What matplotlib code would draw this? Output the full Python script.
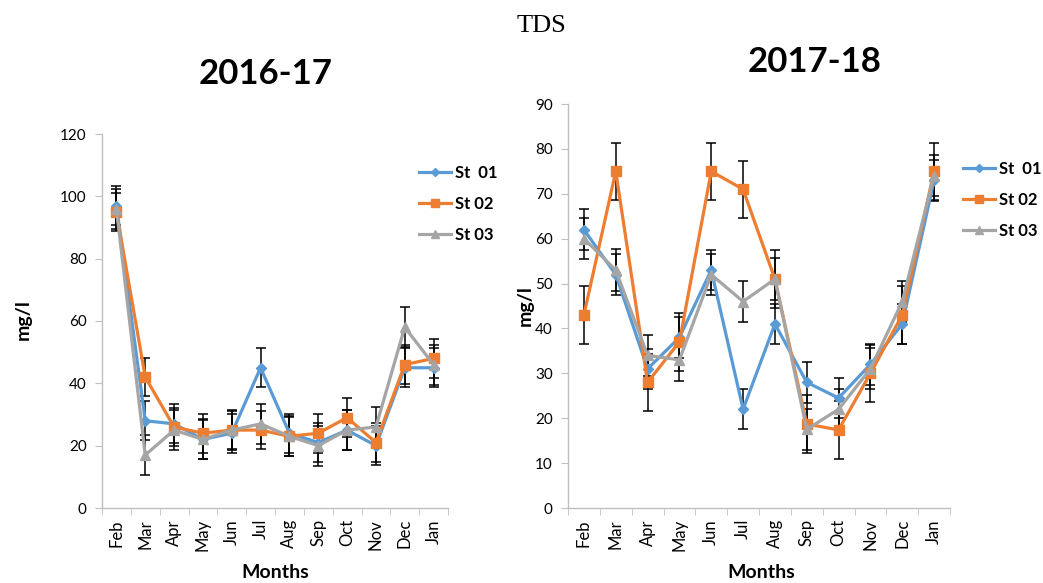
import matplotlib
matplotlib.use("Agg")
import matplotlib.pyplot as plt
from matplotlib.lines import Line2D
import numpy as np

months = ["Feb", "Mar", "Apr", "May", "Jun", "Jul", "Aug", "Sep", "Oct", "Nov", "Dec", "Jan"]
stations = ["St  01", "St 02", "St 03"]

# 2016-17 TDS (mg/l)
st01_1617 = [97, 28, 27, 22, 24, 45, 24, 21, 25, 20, 45, 45]
st02_1617 = [95, 42, 26, 24, 25, 25, 23, 24, 29, 21, 46, 48]
st03_1617 = [96, 17, 25, 22, 25, 27, 23, 20, 25, 26, 58, 46]
err_1617 = [6.3, 6.2, 6.4]

# 2017-18 TDS (mg/l)
st01_1718 = [62, 52, 31, 38, 53, 22, 41, 28, 24.5, 32, 41, 73]
st02_1718 = [43, 75, 28, 37, 75, 71, 51, 18.7, 17.4, 30, 43, 75]
st03_1718 = [60, 53, 34, 33, 52, 46, 51, 17.5, 22, 31, 46, 74]
err_1718 = [4.5, 6.4, 4.6]

colors = ["#5B9BD5", "#ED7D31", "#A5A5A5"]
markers = ["D", "s", "^"]
msizes = [5, 7, 7]

plt.rcParams["font.family"] = ["Lato", "DejaVu Sans"]

fig = plt.figure(figsize=(10.43, 5.83), dpi=100)
W, H = 1043, 583


def axes_px(x0, y0, x1, y1):
    return fig.add_axes([x0 / W, 1 - y1 / H, (x1 - x0) / W, (y1 - y0) / H])


def draw_panel(ax, box, series, errs, ymax, ystep, title, title_xy, legend_xy,
               ylabel_xy, xlabel_xy):
    x0, y0, x1, y1 = box
    x = np.arange(len(months))
    for vals, err, c, m, ms in zip(series, errs, colors, markers, msizes):
        ax.errorbar(x, vals, yerr=err, color=c, marker=m, markersize=ms,
                    linewidth=2.3, ecolor="black", elinewidth=1.1, capsize=3.5,
                    capthick=1.1)
    ax.set_xlim(-0.5, len(months) - 0.5)
    ax.set_ylim(0, ymax)
    ax.set_yticks(np.arange(0, ymax + 1, ystep))
    ax.set_xticks(x)
    ax.set_xticklabels(months, rotation=90, fontsize=12)
    ax.set_xticks(np.arange(-0.5, len(months)), minor=True)
    ax.tick_params(axis="x", which="major", length=0, pad=8)
    ax.tick_params(axis="x", which="minor", length=5, color="#BFBFBF", direction="out")
    ax.tick_params(axis="y", length=5, color="#BFBFBF", labelsize=11, pad=6)
    for s in ["top", "right"]:
        ax.spines[s].set_visible(False)
    for s in ["left", "bottom"]:
        ax.spines[s].set_color("#BFBFBF")
        ax.spines[s].set_linewidth(1.0)

    ax.set_xlabel("Months", fontsize=14, fontweight="bold", va="center")
    ax.xaxis.set_label_coords((xlabel_xy[0] - x0) / (x1 - x0),
                              (y1 - xlabel_xy[1]) / (y1 - y0))
    ax.set_ylabel("mg/l", fontsize=14, fontweight="bold", va="center")
    ax.yaxis.set_label_coords((ylabel_xy[0] - x0) / (x1 - x0),
                              (y1 - ylabel_xy[1]) / (y1 - y0))

    fig.text(title_xy[0] / W, 1 - title_xy[1] / H, title, fontsize=25,
             fontweight="bold", ha="center", va="center")

    handles = [Line2D([], [], color=c, marker=m, markersize=ms - 1, linewidth=2.3)
               for c, m, ms in zip(colors, markers, msizes)]
    ax.legend(handles, stations, loc="upper left",
              bbox_to_anchor=(legend_xy[0] / W, 1 - legend_xy[1] / H),
              bbox_transform=fig.transFigure, frameon=False,
              prop={"weight": "bold", "size": 12}, handlelength=1.9,
              labelspacing=0.9, handletextpad=0.25)


ax1_box = (102, 134, 448, 508)
ax1 = axes_px(*ax1_box)
draw_panel(ax1, ax1_box, [st01_1617, st02_1617, st03_1617], err_1617, 120, 20,
           "2016-17", (266, 74), (404, 150), (23, 320), (275, 573))

ax2_box = (568, 104, 950, 508)
ax2 = axes_px(*ax2_box)
draw_panel(ax2, ax2_box, [st01_1718, st02_1718, st03_1718], err_1718, 90, 10,
           "2017-18", (815, 62), (948, 146), (525, 306), (761, 573))

fig.text(541 / W, 1 - 26 / H, "TDS", fontsize=19, family="Liberation Serif",
         ha="center", va="center")

fig.savefig("out.png", dpi=100)
